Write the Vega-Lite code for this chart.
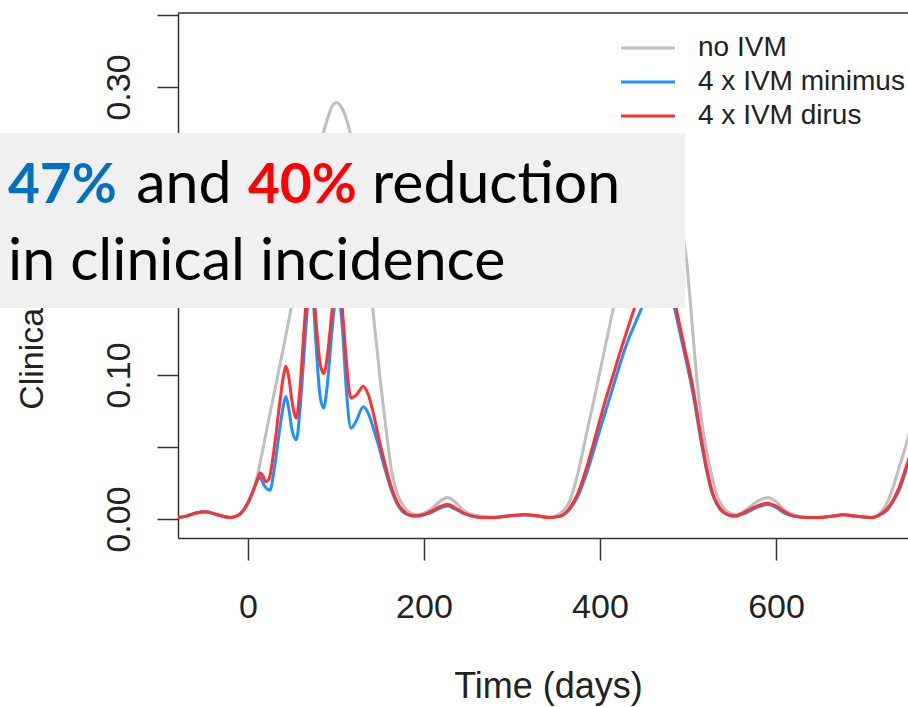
{
  "$schema": "https://vega.github.io/schema/vega-lite/v6.json",
  "width": 730,
  "height": 525,
  "autosize": {"type": "none"},
  "padding": {"left": 178, "top": 13, "right": 0, "bottom": 169},
  "background": "white",
  "config": {
    "view": {"stroke": null},
    "axis": {
      "grid": false,
      "domainColor": "#333333",
      "domainWidth": 1.5,
      "tickColor": "#333333",
      "tickWidth": 1.5,
      "labelFont": "Liberation Sans",
      "labelFontSize": 34,
      "labelColor": "#222222",
      "titleFont": "Liberation Sans",
      "titleFontSize": 36,
      "titleFontWeight": "normal",
      "titleColor": "#222222"
    }
  },
  "datasets": {
    "curves": [
      {"series":"no IVM","day":-80,"value":0.001},{"series":"no IVM","day":-70,"value":0.002},{"series":"no IVM","day":-60,"value":0.004},{"series":"no IVM","day":-48,"value":0.005},{"series":"no IVM","day":-35,"value":0.003},{"series":"no IVM","day":-20,"value":0.001},{"series":"no IVM","day":-10,"value":0.003},{"series":"no IVM","day":-3,"value":0.008},{"series":"no IVM","day":5,"value":0.018},{"series":"no IVM","day":11,"value":0.031},{"series":"no IVM","day":20,"value":0.058},{"series":"no IVM","day":30,"value":0.088},{"series":"no IVM","day":40,"value":0.118},{"series":"no IVM","day":48,"value":0.143},{"series":"no IVM","day":57,"value":0.172},{"series":"no IVM","day":66,"value":0.203},{"series":"no IVM","day":75,"value":0.235},{"series":"no IVM","day":85,"value":0.266},{"series":"no IVM","day":92,"value":0.281},{"series":"no IVM","day":97,"value":0.288},{"series":"no IVM","day":101,"value":0.289},{"series":"no IVM","day":105,"value":0.287},{"series":"no IVM","day":110,"value":0.281},{"series":"no IVM","day":117,"value":0.266},{"series":"no IVM","day":124,"value":0.24},{"series":"no IVM","day":132,"value":0.198},{"series":"no IVM","day":142,"value":0.145},{"series":"no IVM","day":150,"value":0.098},{"series":"no IVM","day":157,"value":0.062},{"series":"no IVM","day":163,"value":0.034},{"series":"no IVM","day":170,"value":0.017},{"series":"no IVM","day":178,"value":0.008},{"series":"no IVM","day":185,"value":0.004},{"series":"no IVM","day":192,"value":0.003},{"series":"no IVM","day":200,"value":0.004},{"series":"no IVM","day":210,"value":0.008},{"series":"no IVM","day":220,"value":0.013},{"series":"no IVM","day":227,"value":0.015},{"series":"no IVM","day":235,"value":0.012},{"series":"no IVM","day":245,"value":0.006},{"series":"no IVM","day":255,"value":0.003},{"series":"no IVM","day":265,"value":0.002},{"series":"no IVM","day":279,"value":0.001},{"series":"no IVM","day":295,"value":0.002},{"series":"no IVM","day":315,"value":0.003},{"series":"no IVM","day":330,"value":0.002},{"series":"no IVM","day":343,"value":0.001},{"series":"no IVM","day":355,"value":0.004},{"series":"no IVM","day":366,"value":0.013},{"series":"no IVM","day":375,"value":0.032},{"series":"no IVM","day":385,"value":0.06},{"series":"no IVM","day":395,"value":0.088},{"series":"no IVM","day":405,"value":0.117},{"series":"no IVM","day":415,"value":0.146},{"series":"no IVM","day":425,"value":0.174},{"series":"no IVM","day":435,"value":0.2},{"series":"no IVM","day":445,"value":0.226},{"series":"no IVM","day":455,"value":0.246},{"series":"no IVM","day":462,"value":0.255},{"series":"no IVM","day":467,"value":0.258},{"series":"no IVM","day":471,"value":0.257},{"series":"no IVM","day":476,"value":0.252},{"series":"no IVM","day":482,"value":0.24},{"series":"no IVM","day":488,"value":0.222},{"series":"no IVM","day":494,"value":0.2},{"series":"no IVM","day":499,"value":0.176},{"series":"no IVM","day":503,"value":0.148},{"series":"no IVM","day":510,"value":0.098},{"series":"no IVM","day":517,"value":0.062},{"series":"no IVM","day":525,"value":0.036},{"series":"no IVM","day":532,"value":0.018},{"series":"no IVM","day":540,"value":0.008},{"series":"no IVM","day":548,"value":0.004},{"series":"no IVM","day":555,"value":0.003},{"series":"no IVM","day":565,"value":0.006},{"series":"no IVM","day":578,"value":0.012},{"series":"no IVM","day":591,"value":0.015},{"series":"no IVM","day":600,"value":0.012},{"series":"no IVM","day":610,"value":0.006},{"series":"no IVM","day":620,"value":0.003},{"series":"no IVM","day":635,"value":0.001},{"series":"no IVM","day":650,"value":0.001},{"series":"no IVM","day":665,"value":0.002},{"series":"no IVM","day":676,"value":0.003},{"series":"no IVM","day":690,"value":0.002},{"series":"no IVM","day":709,"value":0.001},{"series":"no IVM","day":718,"value":0.004},{"series":"no IVM","day":726,"value":0.011},{"series":"no IVM","day":733,"value":0.022},{"series":"no IVM","day":740,"value":0.036},{"series":"no IVM","day":750,"value":0.056},{"series":"no IVM","day":758,"value":0.074},

      {"series":"4 x IVM minimus","day":-80,"value":0.001},{"series":"4 x IVM minimus","day":-70,"value":0.002},{"series":"4 x IVM minimus","day":-60,"value":0.004},{"series":"4 x IVM minimus","day":-48,"value":0.005},{"series":"4 x IVM minimus","day":-35,"value":0.003},{"series":"4 x IVM minimus","day":-20,"value":0.001},{"series":"4 x IVM minimus","day":-10,"value":0.003},{"series":"4 x IVM minimus","day":-3,"value":0.008},{"series":"4 x IVM minimus","day":5,"value":0.018},{"series":"4 x IVM minimus","day":11,"value":0.027},{"series":"4 x IVM minimus","day":14,"value":0.029},{"series":"4 x IVM minimus","day":17,"value":0.025},{"series":"4 x IVM minimus","day":20,"value":0.022},{"series":"4 x IVM minimus","day":25,"value":0.02},{"series":"4 x IVM minimus","day":30,"value":0.035},{"series":"4 x IVM minimus","day":36,"value":0.062},{"series":"4 x IVM minimus","day":40,"value":0.078},{"series":"4 x IVM minimus","day":43,"value":0.085},{"series":"4 x IVM minimus","day":46,"value":0.078},{"series":"4 x IVM minimus","day":50,"value":0.062},{"series":"4 x IVM minimus","day":55,"value":0.055},{"series":"4 x IVM minimus","day":59,"value":0.075},{"series":"4 x IVM minimus","day":63,"value":0.108},{"series":"4 x IVM minimus","day":67,"value":0.142},{"series":"4 x IVM minimus","day":71,"value":0.162},{"series":"4 x IVM minimus","day":74,"value":0.152},{"series":"4 x IVM minimus","day":78,"value":0.115},{"series":"4 x IVM minimus","day":82,"value":0.085},{"series":"4 x IVM minimus","day":86,"value":0.077},{"series":"4 x IVM minimus","day":90,"value":0.092},{"series":"4 x IVM minimus","day":94,"value":0.12},{"series":"4 x IVM minimus","day":98,"value":0.146},{"series":"4 x IVM minimus","day":102,"value":0.156},{"series":"4 x IVM minimus","day":105,"value":0.148},{"series":"4 x IVM minimus","day":108,"value":0.126},{"series":"4 x IVM minimus","day":112,"value":0.088},{"series":"4 x IVM minimus","day":117,"value":0.063},{"series":"4 x IVM minimus","day":123,"value":0.068},{"series":"4 x IVM minimus","day":131,"value":0.078},{"series":"4 x IVM minimus","day":137,"value":0.073},{"series":"4 x IVM minimus","day":143,"value":0.062},{"series":"4 x IVM minimus","day":148,"value":0.052},{"series":"4 x IVM minimus","day":155,"value":0.036},{"series":"4 x IVM minimus","day":163,"value":0.02},{"series":"4 x IVM minimus","day":170,"value":0.01},{"series":"4 x IVM minimus","day":176,"value":0.005},{"series":"4 x IVM minimus","day":182,"value":0.003},{"series":"4 x IVM minimus","day":190,"value":0.002},{"series":"4 x IVM minimus","day":200,"value":0.003},{"series":"4 x IVM minimus","day":210,"value":0.005},{"series":"4 x IVM minimus","day":220,"value":0.008},{"series":"4 x IVM minimus","day":227,"value":0.009},{"series":"4 x IVM minimus","day":235,"value":0.007},{"series":"4 x IVM minimus","day":245,"value":0.004},{"series":"4 x IVM minimus","day":255,"value":0.002},{"series":"4 x IVM minimus","day":265,"value":0.001},{"series":"4 x IVM minimus","day":279,"value":0.001},{"series":"4 x IVM minimus","day":295,"value":0.002},{"series":"4 x IVM minimus","day":315,"value":0.003},{"series":"4 x IVM minimus","day":330,"value":0.002},{"series":"4 x IVM minimus","day":343,"value":0.001},{"series":"4 x IVM minimus","day":355,"value":0.002},{"series":"4 x IVM minimus","day":366,"value":0.007},{"series":"4 x IVM minimus","day":375,"value":0.016},{"series":"4 x IVM minimus","day":385,"value":0.032},{"series":"4 x IVM minimus","day":399,"value":0.06},{"series":"4 x IVM minimus","day":410,"value":0.082},{"series":"4 x IVM minimus","day":420,"value":0.102},{"series":"4 x IVM minimus","day":430,"value":0.121},{"series":"4 x IVM minimus","day":440,"value":0.136},{"series":"4 x IVM minimus","day":449,"value":0.149},{"series":"4 x IVM minimus","day":456,"value":0.16},{"series":"4 x IVM minimus","day":462,"value":0.168},{"series":"4 x IVM minimus","day":467,"value":0.172},{"series":"4 x IVM minimus","day":472,"value":0.17},{"series":"4 x IVM minimus","day":477,"value":0.163},{"series":"4 x IVM minimus","day":482,"value":0.153},{"series":"4 x IVM minimus","day":487,"value":0.14},{"series":"4 x IVM minimus","day":495,"value":0.118},{"series":"4 x IVM minimus","day":506,"value":0.086},{"series":"4 x IVM minimus","day":514,"value":0.057},{"series":"4 x IVM minimus","day":521,"value":0.034},{"series":"4 x IVM minimus","day":528,"value":0.017},{"series":"4 x IVM minimus","day":536,"value":0.007},{"series":"4 x IVM minimus","day":545,"value":0.003},{"series":"4 x IVM minimus","day":553,"value":0.002},{"series":"4 x IVM minimus","day":565,"value":0.004},{"series":"4 x IVM minimus","day":578,"value":0.008},{"series":"4 x IVM minimus","day":591,"value":0.01},{"series":"4 x IVM minimus","day":600,"value":0.008},{"series":"4 x IVM minimus","day":610,"value":0.004},{"series":"4 x IVM minimus","day":620,"value":0.002},{"series":"4 x IVM minimus","day":635,"value":0.001},{"series":"4 x IVM minimus","day":647,"value":0.001},{"series":"4 x IVM minimus","day":665,"value":0.002},{"series":"4 x IVM minimus","day":676,"value":0.003},{"series":"4 x IVM minimus","day":690,"value":0.002},{"series":"4 x IVM minimus","day":709,"value":0.001},{"series":"4 x IVM minimus","day":718,"value":0.003},{"series":"4 x IVM minimus","day":726,"value":0.006},{"series":"4 x IVM minimus","day":733,"value":0.012},{"series":"4 x IVM minimus","day":740,"value":0.02},{"series":"4 x IVM minimus","day":750,"value":0.038},{"series":"4 x IVM minimus","day":758,"value":0.052},

      {"series":"4 x IVM dirus","day":-80,"value":0.001},{"series":"4 x IVM dirus","day":-70,"value":0.002},{"series":"4 x IVM dirus","day":-60,"value":0.004},{"series":"4 x IVM dirus","day":-48,"value":0.005},{"series":"4 x IVM dirus","day":-35,"value":0.003},{"series":"4 x IVM dirus","day":-20,"value":0.001},{"series":"4 x IVM dirus","day":-10,"value":0.003},{"series":"4 x IVM dirus","day":-3,"value":0.008},{"series":"4 x IVM dirus","day":5,"value":0.018},{"series":"4 x IVM dirus","day":11,"value":0.028},{"series":"4 x IVM dirus","day":14,"value":0.032},{"series":"4 x IVM dirus","day":17,"value":0.03},{"series":"4 x IVM dirus","day":20,"value":0.026},{"series":"4 x IVM dirus","day":24,"value":0.028},{"series":"4 x IVM dirus","day":30,"value":0.05},{"series":"4 x IVM dirus","day":36,"value":0.08},{"series":"4 x IVM dirus","day":40,"value":0.098},{"series":"4 x IVM dirus","day":43,"value":0.106},{"series":"4 x IVM dirus","day":46,"value":0.1},{"series":"4 x IVM dirus","day":50,"value":0.082},{"series":"4 x IVM dirus","day":55,"value":0.07},{"series":"4 x IVM dirus","day":59,"value":0.09},{"series":"4 x IVM dirus","day":63,"value":0.125},{"series":"4 x IVM dirus","day":67,"value":0.158},{"series":"4 x IVM dirus","day":71,"value":0.175},{"series":"4 x IVM dirus","day":74,"value":0.165},{"series":"4 x IVM dirus","day":78,"value":0.132},{"series":"4 x IVM dirus","day":82,"value":0.108},{"series":"4 x IVM dirus","day":86,"value":0.101},{"series":"4 x IVM dirus","day":90,"value":0.112},{"series":"4 x IVM dirus","day":94,"value":0.135},{"series":"4 x IVM dirus","day":98,"value":0.158},{"series":"4 x IVM dirus","day":102,"value":0.168},{"series":"4 x IVM dirus","day":105,"value":0.16},{"series":"4 x IVM dirus","day":108,"value":0.14},{"series":"4 x IVM dirus","day":112,"value":0.108},{"series":"4 x IVM dirus","day":117,"value":0.084},{"series":"4 x IVM dirus","day":123,"value":0.086},{"series":"4 x IVM dirus","day":131,"value":0.092},{"series":"4 x IVM dirus","day":137,"value":0.086},{"series":"4 x IVM dirus","day":143,"value":0.072},{"series":"4 x IVM dirus","day":148,"value":0.058},{"series":"4 x IVM dirus","day":155,"value":0.04},{"series":"4 x IVM dirus","day":163,"value":0.022},{"series":"4 x IVM dirus","day":170,"value":0.011},{"series":"4 x IVM dirus","day":176,"value":0.006},{"series":"4 x IVM dirus","day":182,"value":0.003},{"series":"4 x IVM dirus","day":190,"value":0.002},{"series":"4 x IVM dirus","day":200,"value":0.003},{"series":"4 x IVM dirus","day":210,"value":0.006},{"series":"4 x IVM dirus","day":220,"value":0.009},{"series":"4 x IVM dirus","day":227,"value":0.01},{"series":"4 x IVM dirus","day":235,"value":0.008},{"series":"4 x IVM dirus","day":245,"value":0.004},{"series":"4 x IVM dirus","day":255,"value":0.002},{"series":"4 x IVM dirus","day":265,"value":0.001},{"series":"4 x IVM dirus","day":279,"value":0.001},{"series":"4 x IVM dirus","day":295,"value":0.002},{"series":"4 x IVM dirus","day":315,"value":0.003},{"series":"4 x IVM dirus","day":330,"value":0.002},{"series":"4 x IVM dirus","day":343,"value":0.001},{"series":"4 x IVM dirus","day":355,"value":0.002},{"series":"4 x IVM dirus","day":366,"value":0.008},{"series":"4 x IVM dirus","day":375,"value":0.018},{"series":"4 x IVM dirus","day":385,"value":0.036},{"series":"4 x IVM dirus","day":396,"value":0.06},{"series":"4 x IVM dirus","day":405,"value":0.08},{"series":"4 x IVM dirus","day":415,"value":0.1},{"series":"4 x IVM dirus","day":425,"value":0.12},{"series":"4 x IVM dirus","day":433,"value":0.135},{"series":"4 x IVM dirus","day":440,"value":0.148},{"series":"4 x IVM dirus","day":448,"value":0.162},{"series":"4 x IVM dirus","day":455,"value":0.174},{"series":"4 x IVM dirus","day":461,"value":0.182},{"series":"4 x IVM dirus","day":466,"value":0.185},{"series":"4 x IVM dirus","day":471,"value":0.183},{"series":"4 x IVM dirus","day":476,"value":0.174},{"series":"4 x IVM dirus","day":481,"value":0.161},{"series":"4 x IVM dirus","day":487,"value":0.145},{"series":"4 x IVM dirus","day":495,"value":0.122},{"series":"4 x IVM dirus","day":506,"value":0.09},{"series":"4 x IVM dirus","day":514,"value":0.06},{"series":"4 x IVM dirus","day":521,"value":0.036},{"series":"4 x IVM dirus","day":528,"value":0.018},{"series":"4 x IVM dirus","day":536,"value":0.008},{"series":"4 x IVM dirus","day":545,"value":0.003},{"series":"4 x IVM dirus","day":553,"value":0.002},{"series":"4 x IVM dirus","day":565,"value":0.005},{"series":"4 x IVM dirus","day":578,"value":0.009},{"series":"4 x IVM dirus","day":591,"value":0.011},{"series":"4 x IVM dirus","day":600,"value":0.009},{"series":"4 x IVM dirus","day":610,"value":0.005},{"series":"4 x IVM dirus","day":620,"value":0.002},{"series":"4 x IVM dirus","day":635,"value":0.001},{"series":"4 x IVM dirus","day":647,"value":0.001},{"series":"4 x IVM dirus","day":665,"value":0.002},{"series":"4 x IVM dirus","day":676,"value":0.003},{"series":"4 x IVM dirus","day":690,"value":0.002},{"series":"4 x IVM dirus","day":709,"value":0.001},{"series":"4 x IVM dirus","day":718,"value":0.003},{"series":"4 x IVM dirus","day":726,"value":0.007},{"series":"4 x IVM dirus","day":733,"value":0.013},{"series":"4 x IVM dirus","day":740,"value":0.022},{"series":"4 x IVM dirus","day":750,"value":0.04},{"series":"4 x IVM dirus","day":758,"value":0.055}
    ]
  },
  "layer": [
    {
      "data": {"name": "curves"},
      "transform": [{"filter": "datum.series === 'no IVM'"}],
      "mark": {"type": "line", "strokeWidth": 3, "interpolate": "monotone", "clip": true},
      "encoding": {
        "x": {"field": "day", "type": "quantitative",
              "scale": {"domain": [-79.5, 750], "nice": false, "zero": false},
              "axis": {"values": [0, 200, 400, 600], "tickSize": 22, "labelBaseline": "alphabetic", "labelPadding": 57, "labelFlush": false,
                       "title": "Time (days)", "titleX": 370, "titleY": 159, "titleBaseline": "alphabetic", "titleAlign": "center"}},
        "y": {"field": "value", "type": "quantitative",
              "scale": {"domain": [-0.0132, 0.3514], "nice": false, "zero": false},
              "axis": {"values": [0, 0.05, 0.1, 0.15, 0.2, 0.25, 0.3, 0.35], "tickSize": 21, "labelAngle": 270, "labelAlign": "center", "labelBaseline": "alphabetic", "labelPadding": 28, "labelOverlap": false,
                       "labelExpr": "round(datum.value * 100) % 10 == 0 ? format(datum.value, '.2f') : ''",
                       "title": "Clinical incidence", "titleFontSize": 34, "titleAngle": 270, "titleX": -136, "titleY": 265, "titleBaseline": "alphabetic", "titleAlign": "center"}},
        "color": {"field": "series", "type": "nominal",
                  "scale": {"domain": ["no IVM", "4 x IVM minimus", "4 x IVM dirus"], "range": ["#BEBEBE", "#1E90FF", "#FF3030"]},
                  "legend": {"orient": "none", "legendX": 456, "legendY": 21, "title": null, "padding": 0,
                             "symbolType": "M-3,0H3", "symbolSize": 324, "symbolStrokeWidth": 3,
                             "labelFont": "Liberation Sans", "labelFontSize": 28, "labelColor": "#222222", "labelLimit": 0,
                             "labelOffset": 36, "rowPadding": 6}}
      }
    },
    {
      "data": {"name": "curves"},
      "transform": [{"filter": "datum.series === '4 x IVM minimus'"}],
      "mark": {"type": "line", "strokeWidth": 3, "interpolate": "monotone", "clip": true},
      "encoding": {
        "x": {"field": "day", "type": "quantitative"},
        "y": {"field": "value", "type": "quantitative"},
        "color": {"field": "series", "type": "nominal"}
      }
    },
    {
      "data": {"name": "curves"},
      "transform": [{"filter": "datum.series === '4 x IVM dirus'"}],
      "mark": {"type": "line", "strokeWidth": 3, "interpolate": "monotone", "clip": true},
      "encoding": {
        "x": {"field": "day", "type": "quantitative"},
        "y": {"field": "value", "type": "quantitative"},
        "color": {"field": "series", "type": "nominal"}
      }
    },
    {
      "data": {"values": [{}]},
      "mark": {"type": "rule", "color": "#333333", "strokeWidth": 1.5},
      "encoding": {"y": {"datum": 0.3514}}
    },
    {
      "data": {"values": [{}]},
      "mark": {"type": "rect", "color": "#F0F0F0", "clip": false},
      "encoding": {
        "x": {"datum": -282}, "x2": {"datum": 497},
        "y": {"datum": 0.268}, "y2": {"datum": 0.1465}
      }
    },
    {
      "data": {"values": [{}]},
      "mark": {"type": "text", "text": "47%", "font": "Lato", "fontSize": 55, "fontWeight": "bold", "color": "#0070C0", "align": "left", "baseline": "alphabetic"},
      "encoding": {"x": {"datum": -272.7}, "y": {"datum": 0.2194}}
    },
    {
      "data": {"values": [{}]},
      "mark": {"type": "text", "text": "and", "font": "Lato", "fontSize": 59, "color": "#000000", "align": "left", "baseline": "alphabetic"},
      "encoding": {"x": {"datum": -127}, "y": {"datum": 0.2194}}
    },
    {
      "data": {"values": [{}]},
      "mark": {"type": "text", "text": "40%", "font": "Lato", "fontSize": 55, "fontWeight": "bold", "color": "#FF0000", "align": "left", "baseline": "alphabetic"},
      "encoding": {"x": {"datum": 0}, "y": {"datum": 0.2194}}
    },
    {
      "data": {"values": [{}]},
      "mark": {"type": "text", "text": "reduction", "font": "Lato", "fontSize": 59, "color": "#000000", "align": "left", "baseline": "alphabetic"},
      "encoding": {"x": {"datum": 140.9}, "y": {"datum": 0.2194}}
    },
    {
      "data": {"values": [{}]},
      "mark": {"type": "text", "text": "in clinical incidence", "font": "Lato", "fontSize": 59, "color": "#000000", "align": "left", "baseline": "alphabetic"},
      "encoding": {"x": {"datum": -272.7}, "y": {"datum": 0.166}}
    }
  ]
}
